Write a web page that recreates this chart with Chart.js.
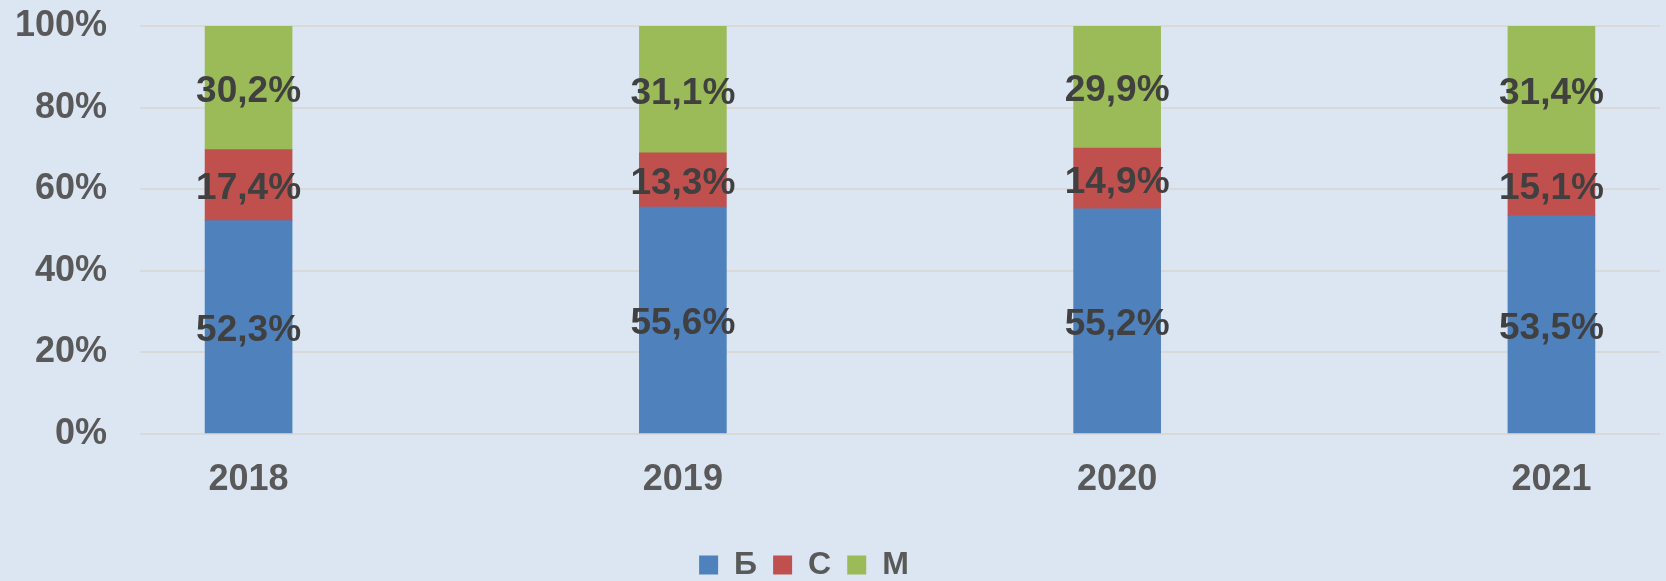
<!DOCTYPE html>
<html>
<head>
<meta charset="utf-8">
<script src="https://cdn.jsdelivr.net/npm/chart.js@4"></script>
<style>
  html, body { margin: 0; padding: 0; background: #dce6f2; }
  #wrap { width: 1666px; height: 581px; }
</style>
</head>
<body>
<div id="wrap"><canvas id="grafico"></canvas></div>
<script>
// Datos
const anios = ['2018', '2019', '2020', '2021'];
const serieB = [52.3, 55.6, 55.2, 53.5];
const serieC = [17.4, 13.3, 14.9, 15.1];
const serieM = [30.2, 31.1, 29.9, 31.4];
const ticksY = [0, 20, 40, 60, 80, 100];

const fuente = 'Liberation Sans, Arial, sans-serif';
const toXY = arr => arr.map((v, i) => ({ x: i, y: v }));

// etiquetas dentro de las barras
const etiquetas = {
    id: 'etiquetas',
    afterDatasetsDraw(chart) {
        const ctx = chart.ctx;
        ctx.save();
        ctx.font = 'bold 37px ' + fuente;
        ctx.fillStyle = '#404040';
        ctx.textAlign = 'center';
        ctx.textBaseline = 'middle';
        chart.data.datasets.forEach((ds, di) => {
            chart.getDatasetMeta(di).data.forEach((bar, i) => {
                const txt = ds.data[i].y.toFixed(1).replace('.', ',') + '%';
                ctx.fillText(txt, bar.x, (bar.y + bar.base) / 2 + 4);
            });
        });
        ctx.restore();
    }
};

const data = {
    datasets: [
        { label: 'Б', data: toXY(serieB), backgroundColor: '#4f81bd' },
        { label: 'С', data: toXY(serieC), backgroundColor: '#c0504d' },
        { label: 'М', data: toXY(serieM), backgroundColor: '#9bbb59' }
    ]
};

const config = {
    type: 'bar',
    data: data,
    options: {
        responsive: true,
        maintainAspectRatio: false,
        animation: false,
        // left negativo para centrar la leyenda como en el original
        layout: { padding: { top: 26, right: 6, bottom: -10, left: -52 } },
        datasets: { bar: { barThickness: 87 } },
        scales: {
            x: {
                type: 'linear',
                stacked: true,
                offset: false,
                min: -0.25,
                max: anios.length - 0.75,
                afterBuildTicks: s => { s.ticks = anios.map((_, i) => ({ value: i })); },
                afterFit: s => { s.height = 99; },
                grid: { display: false, drawTicks: false },
                border: { display: false },
                ticks: {
                    padding: 24,
                    color: '#595959',
                    font: { family: fuente, size: 36, weight: 'bold' },
                    callback: v => anios[v]
                }
            },
            y: {
                stacked: true,
                min: 0,
                max: 100,
                afterBuildTicks: s => { s.ticks = ticksY.map(v => ({ value: v })); },
                afterFit: s => { s.width = 192; s.paddingTop = 0; s.paddingBottom = 0; },
                grid: { color: '#d9d9d9', lineWidth: 2, drawTicks: false },
                border: { display: false },
                ticks: {
                    padding: 33,
                    color: '#595959',
                    font: { family: fuente, size: 36, weight: 'bold' },
                    callback: v => v + '%'
                }
            }
        },
        plugins: {
            legend: {
                position: 'bottom',
                labels: {
                    boxWidth: 19,
                    boxHeight: 19,
                    padding: 16,
                    color: '#595959',
                    font: { family: fuente, size: 32, weight: 'bold' }
                }
            },
            tooltip: { enabled: false }
        }
    },
    plugins: [etiquetas]
};

new Chart(document.getElementById('grafico'), config);
</script>
</body>
</html>
